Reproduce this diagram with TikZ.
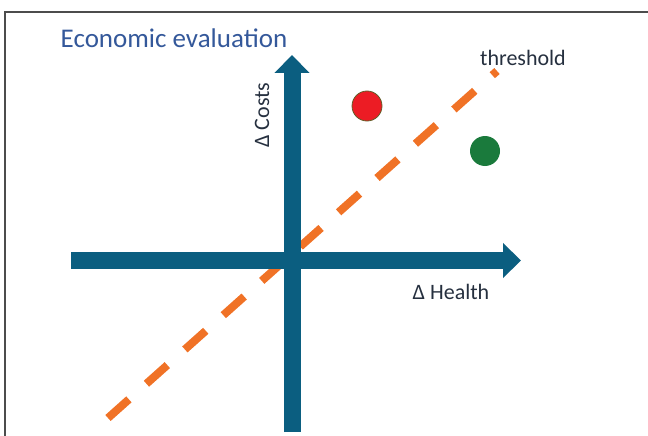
\documentclass[tikz,border=0pt]{standalone}
\usepackage{fontspec}
\setmainfont{Carlito}
\usetikzlibrary{arrows.meta}
\definecolor{axisblue}{HTML}{0B5E80}
\definecolor{dashorange}{HTML}{F07226}
\definecolor{titleblue}{HTML}{34589A}
\definecolor{labelgray}{HTML}{26303F}
\definecolor{dotred}{HTML}{EC1C24}
\definecolor{dotgreen}{HTML}{1A7A3C}

\begin{document}
\begin{tikzpicture}[x=1pt,y=-1pt]
  \useasboundingbox (0,0) rectangle (648,436);
  \draw[gray!60!black, line width=1.5pt] (5,436) -- (5,12) -- (648,12);
  \coordinate (tlow) at (108,418);
  \coordinate (thigh) at (497,71);
  \coordinate (hstart) at (71,260.5);
  \coordinate (hend) at (521,260.5);
  \coordinate (vstart) at (292,432);
  \coordinate (vend) at (292,55);
  \node[titleblue, font=\fontsize{27}{32}\selectfont] (title) at (174,38) {Economic evaluation};
  \node[labelgray, font=\fontsize{22}{26}\selectfont] (thr) at (523,58) {threshold};
  \node[labelgray, font=\fontsize{22}{26}\selectfont, rotate=90] (costs) at (262,115) {Δ Costs};
  \node[labelgray, font=\fontsize{22}{26}\selectfont] (health) at (451,292) {Δ Health};
  \node[circle, fill=dotred, draw=olive!60!black, line width=0.8pt, minimum size=30pt, inner sep=0pt] (red) at (367,106) {};
  \node[circle, fill=dotgreen, minimum size=30pt, inner sep=0pt] (green) at (485,151) {};
  % Draw the threshold and the axes
  \draw[dashorange, line width=8pt, dash pattern=on 28pt off 23.5pt] (tlow) -- (thigh);
  \draw[axisblue, line width=17pt, -{Triangle[length=18pt,width=34pt]}] (hstart) -- (hend);
  \draw[axisblue, line width=17pt, -{Triangle[length=18pt,width=34pt]}] (vstart) -- (vend);
\end{tikzpicture}
\end{document}
